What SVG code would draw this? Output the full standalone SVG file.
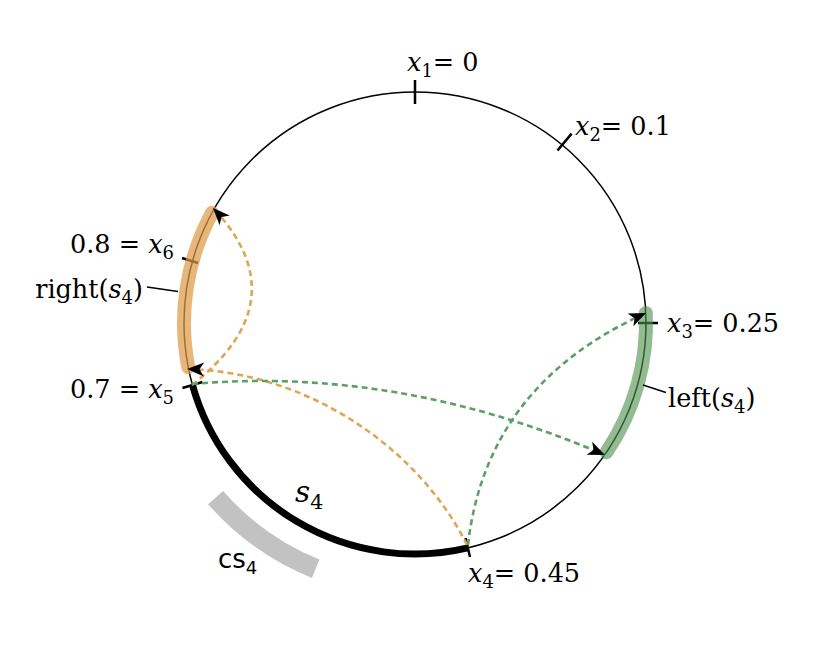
<svg xmlns="http://www.w3.org/2000/svg" width="830" height="648" viewBox="0 0 830 648">
<style>
text{font-family:"DejaVu Serif","Liberation Serif",serif;font-size:25.5px;fill:#000}
.it{font-style:italic}
.sub{font-size:18px}
.sans{font-family:"DejaVu Sans","Liberation Sans",sans-serif;font-size:26px}
.sans .sub{font-size:18px}
.tick{stroke:#000;stroke-width:2.5;fill:none}
.lead{stroke:#000;stroke-width:1.5;fill:none}
.dash{fill:none;stroke-width:2.6;stroke-dasharray:6 4}
.or{stroke:#dfa556}
.gr{stroke:#5e9e68}
</style>
<defs>
<marker id="ah" markerUnits="userSpaceOnUse" viewBox="-19 -9 21 18" markerWidth="21" markerHeight="18" refX="0" refY="0" orient="auto">
<path d="M0,0 L-17,-7 L-12.5,0 L-17,7 Z" fill="#000"/>
</marker>
</defs>

<g id="circle">
<circle cx="415" cy="323" r="231" fill="none" stroke="#000" stroke-width="1.5"/>
</g>

<g id="cs4">
<path d="M315.7,568.7 A265,265 0 0 1 215.6,497.6" fill="none" stroke="#c2c2c2" stroke-width="20"/>
<text class="sans" x="218" y="568">cs<tspan class="sub" dy="6">4</tspan></text>
</g>

<g id="s4">
<path d="M467.8,547.9 A231,231 0 0 1 192.5,385.1" fill="none" stroke="#000" stroke-width="7"/>
<text x="295" y="502" style="font-size:29.5px"><tspan class="it">s</tspan><tspan dy="7" style="font-size:20.5px">4</tspan></text>
</g>

<g id="ticks">
<line class="tick" x1="415" y1="80" x2="415" y2="104"/>
<line class="tick" x1="557.5" y1="150.5" x2="571.6" y2="133.6"/>
<line class="tick" x1="638" y1="323" x2="658" y2="323"/>
<line class="tick" x1="465.5" y1="538" x2="470" y2="557"/>
<line class="tick" x1="182.5" y1="388" x2="202.5" y2="382"/>
<line class="tick" x1="182" y1="258" x2="198" y2="263"/>
</g>

<g id="right-s4">
<path d="M188.25,367.1 A231,231 0 0 1 212,212.8" fill="none" stroke="#dc9a48" stroke-opacity="0.72" stroke-width="14" stroke-linecap="round"/>
<line class="lead" x1="147" y1="287" x2="178" y2="291.5"/>
<text x="143" y="298" text-anchor="end">right(<tspan class="it">s</tspan><tspan class="sub" dy="6">4</tspan><tspan dy="-6">)</tspan></text>
</g>

<g id="left-s4">
<path d="M645.8,312.9 A231,231 0 0 1 606.5,452.2" fill="none" stroke="#4f914f" stroke-opacity="0.62" stroke-width="14" stroke-linecap="round"/>
<line class="lead" x1="643" y1="385" x2="666" y2="392.5"/>
<text x="668" y="407">left(<tspan class="it">s</tspan><tspan class="sub" dy="6">4</tspan><tspan dy="-6">)</tspan></text>
</g>

<g id="labels">
<text x="407" y="71"><tspan class="it">x</tspan><tspan class="sub" dy="6">1</tspan><tspan dy="-6">= 0</tspan></text>
<text x="575" y="135"><tspan class="it">x</tspan><tspan class="sub" dy="6">2</tspan><tspan dy="-6">= 0.1</tspan></text>
<text x="667" y="332"><tspan class="it">x</tspan><tspan class="sub" dy="6">3</tspan><tspan dy="-6">= 0.25</tspan></text>
<text x="468" y="582"><tspan class="it">x</tspan><tspan class="sub" dy="6">4</tspan><tspan dy="-6">= 0.45</tspan></text>
<text x="174" y="398" text-anchor="end">0.7 = <tspan class="it">x</tspan><tspan class="sub" dy="6">5</tspan></text>
<text x="174" y="253" text-anchor="end">0.8 = <tspan class="it">x</tspan><tspan class="sub" dy="6">6</tspan></text>
</g>

<g id="connectors">
<path class="dash or" d="M192,385 Q300,300 213,208" marker-end="url(#ah)"/>
<path class="dash or" d="M467,545 C420,450 310,372 187,369" marker-end="url(#ah)"/>
<path class="dash gr" d="M192,384 Q398,366 605,455" marker-end="url(#ah)"/>
<path class="dash gr" d="M468,545 Q486,385 646,313" marker-end="url(#ah)"/>
</g>
</svg>
